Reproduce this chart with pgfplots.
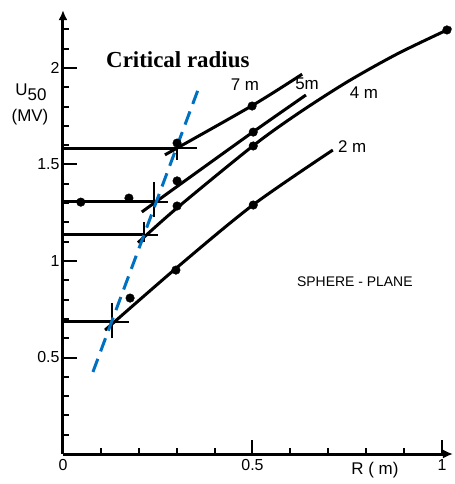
\documentclass[border=0pt]{standalone}
\usepackage{pgfplots}
\pgfplotsset{compat=1.18}
\usepackage{fontspec}
\setmainfont{Liberation Sans}
\newfontfamily\critfont{Liberation Serif}
\usetikzlibrary{arrows.meta}
\definecolor{critBlue}{HTML}{0070C0}

\begin{document}
\begin{tikzpicture}
\begin{axis}[
    x=379bp, y=193bp,
    xmin=0, xmax=1.029, ymin=0, ymax=2.30,
    axis x line=bottom, axis y line=left,
    axis line style={line width=3bp, -{Latex[length=10bp,width=9bp]}},
    clip=false,
    tick align=inside,
    major tick length=14bp, minor tick length=6bp,
    tick style={line width=2bp, black},
    xtick={0,0.5,1}, xticklabels={0,0.5,1},
    minor xtick={0.1,0.2,0.3,0.4,0.6,0.7,0.8,0.9},
    ytick={0.5,1,1.5,2}, yticklabels={0.5,1,1.5,2},
    minor ytick={0.1,0.2,0.3,0.4,0.6,0.7,0.8,0.9,1.1,1.2,1.3,1.4,1.6,1.7,1.8,1.9,2.1,2.2},
    tick label style={font=\fontsize{16}{16}\selectfont},
    xticklabel style={yshift=-2bp},
    /pgf/number format/assume math mode=true,
]
  % curves, one for each gap
  \addplot[line width=3bp, smooth] coordinates {
    (0.269,1.550) (0.499,1.805) (0.631,1.968)};
  \addplot[line width=3bp, smooth] coordinates {
    (0.208,1.254) (0.301,1.386) (0.501,1.668) (0.641,1.860)};
  \addplot[line width=3bp, smooth] coordinates {
    (0.198,1.095) (0.301,1.275) (0.501,1.596) (0.620,1.764) (0.750,1.928)
    (0.880,2.071) (1.013,2.197) (1.021,2.205)};
  \addplot[line width=3bp, smooth] coordinates {
    (0.111,0.642) (0.300,0.965) (0.501,1.290) (0.712,1.575)};

  % horizontal levels
  \addplot[line width=3bp] coordinates {(0,1.585) (0.301,1.585)};
  \addplot[line width=1.5bp] coordinates {(0.301,1.585) (0.354,1.585)};
  \addplot[line width=3bp] coordinates {(0,1.306) (0.240,1.306)};
  \addplot[line width=1.5bp] coordinates {(0.240,1.306) (0.277,1.306)};
  \addplot[line width=3bp] coordinates {(0,1.135) (0.214,1.135)};
  \addplot[line width=1.5bp] coordinates {(0.214,1.135) (0.251,1.135)};
  \addplot[line width=3bp] coordinates {(0,0.684) (0.129,0.684)};
  \addplot[line width=1.5bp] coordinates {(0.129,0.684) (0.174,0.684)};

  % crosses
  \addplot[line width=1.5bp] coordinates {(0.301,1.523) (0.301,1.627)};
  \addplot[line width=1.5bp] coordinates {(0.240,1.228) (0.240,1.409)};
  \addplot[line width=1.5bp] coordinates {(0.214,1.098) (0.214,1.202)};
  \addplot[line width=1.5bp] coordinates {(0.129,0.601) (0.129,0.782)};

  % measured points
  \addplot[only marks, mark=*, mark size=4.3bp, black] coordinates {
    (0.047,1.305) (0.174,1.326) (0.301,1.611) (0.301,1.415) (0.301,1.285)
    (0.177,0.808) (0.298,0.953) (0.499,1.803) (0.502,1.668) (0.502,1.596)
    (0.502,1.290) (1.013,2.197)};

  % critical radius
  \addplot[critBlue, line width=3bp, dash pattern=on 14bp off 8bp] coordinates {
    (0.079,0.425) (0.361,1.912)};

  \node[font=\fontsize{17}{17}\selectfont] at (axis cs:0.480,1.912) {7 m};
  \node[font=\fontsize{17}{17}\selectfont] at (axis cs:0.644,1.917) {5m};
  \node[font=\fontsize{17}{17}\selectfont] at (axis cs:0.794,1.870) {4 m};
  \node[font=\fontsize{17}{17}\selectfont] at (axis cs:0.763,1.591) {2 m};
  \node[font=\fontsize{14}{14}\selectfont] at (axis cs:0.770,0.891) {SPHERE - PLANE};
  \node[font=\fontsize{23}{23}\selectfont\critfont\bfseries, anchor=base] at (axis cs:0.303,2.000) {Critical radius};
  \node[font=\fontsize{17}{17}\selectfont] at (axis cs:0.823,-0.083) {R ( m)};
  \node[font=\fontsize{17}{17}\selectfont] at (axis cs:-0.0844,1.876) {U\raisebox{-5bp}{50}};
  \node[font=\fontsize{17}{17}\selectfont] at (axis cs:-0.087,1.746) {(MV)};

  \coordinate (bl) at (axis cs:-0.1662,-0.1554);
  \coordinate (tr) at (axis cs:1.0317,2.3523);
\end{axis}
\pgfresetboundingbox
\path[use as bounding box] (bl) rectangle (tr);
\end{tikzpicture}
\end{document}
